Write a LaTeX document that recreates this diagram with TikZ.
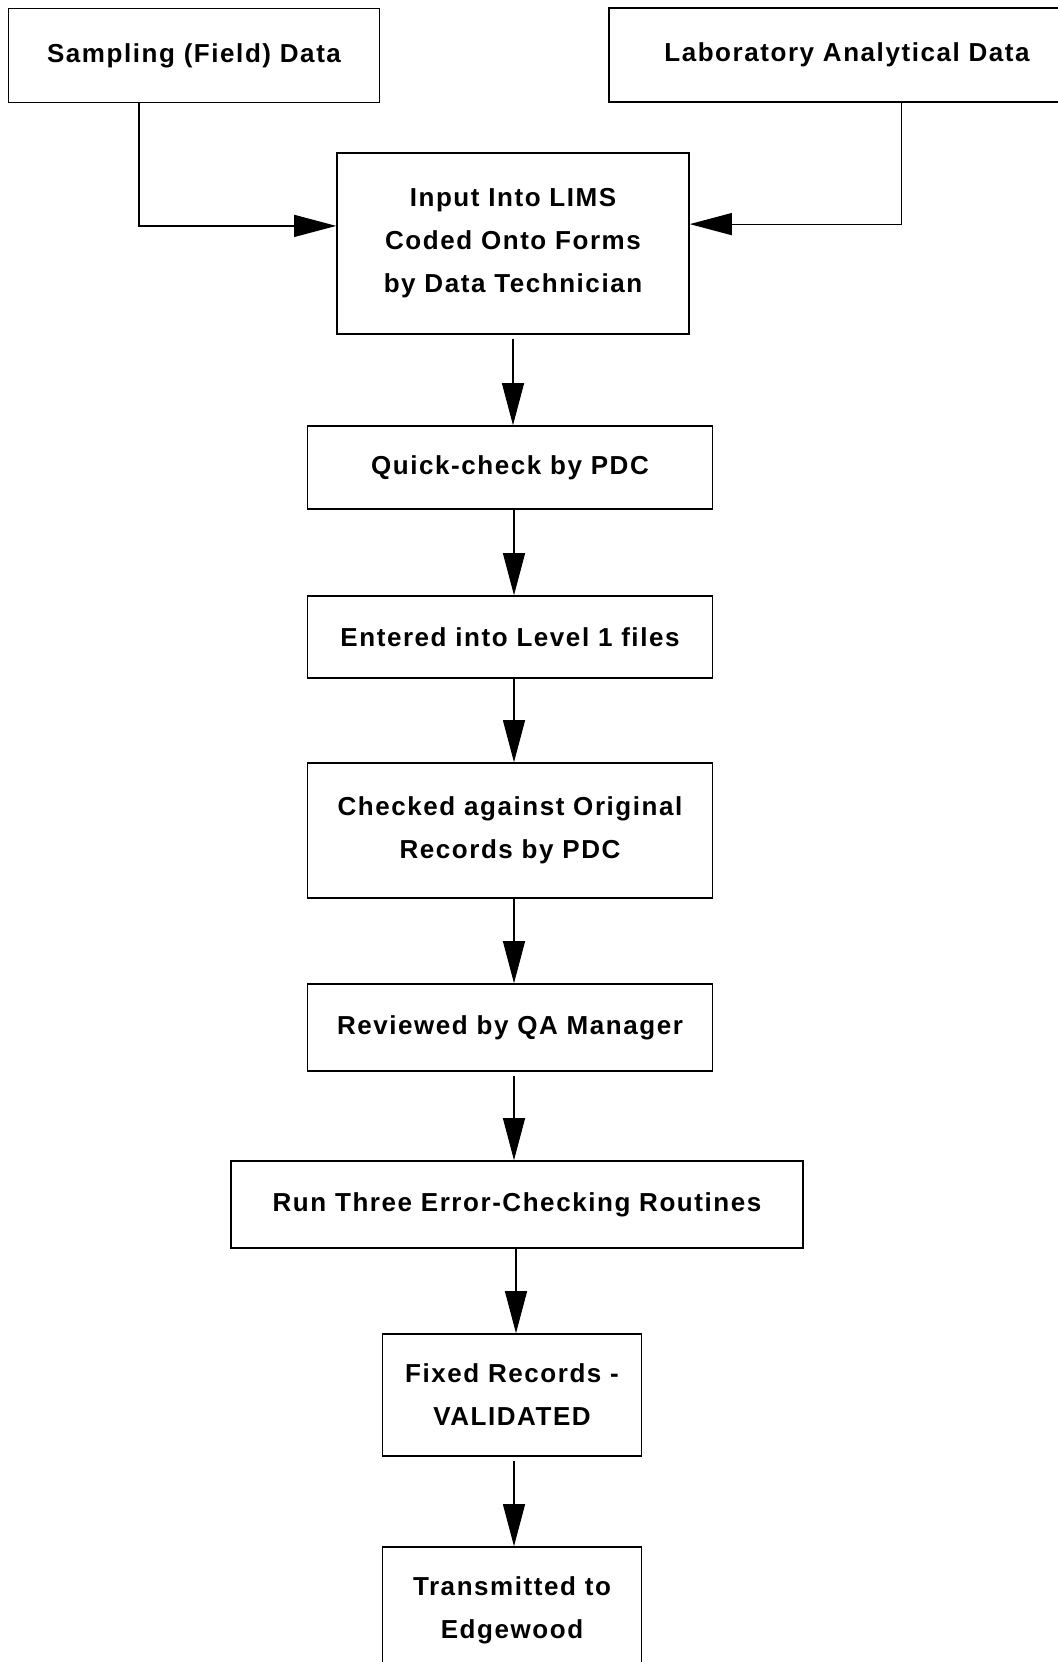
\documentclass[tikz,border=0pt]{standalone}
\usepackage{fontspec}
\setmainfont{Liberation Sans}[LetterSpace=6]
\usetikzlibrary{arrows.meta}
\begin{document}
\begin{tikzpicture}[x=0.5pt,y=-0.5pt,
    stepbox/.style={draw,line width=0.8pt,align=center,inner sep=0pt,
      font=\fontsize{13}{21.5}\selectfont\bfseries},
    arr/.style={line width=0.6pt,-{Triangle[length=21pt,width=11pt]}}]
    \useasboundingbox (0,0) rectangle (1058,1662);
    \clip (0,0) rectangle (1058,1662);
    \node[stepbox,minimum width=185.5pt,minimum height=47pt] (samp) at (194,55.5) {Sampling (Field) Data};
    \node[stepbox,minimum width=238pt,minimum height=47pt] (lab) at (847,55) {Laboratory Analytical Data};
    \node[stepbox,minimum width=176pt,minimum height=90.5pt] (lims) at (513,243.5) {Input Into LIMS\\Coded Onto Forms\\by Data Technician};
    \node[stepbox,minimum width=202.5pt,minimum height=41.5pt] (quick) at (510,467.5) {Quick-check by PDC};
    \node[stepbox,minimum width=202.5pt,minimum height=41pt] (entered) at (510,637) {Entered into Level 1 files};
    \node[stepbox,minimum width=202.5pt,minimum height=67.5pt] (checked) at (510,830.5) {Checked against Original\\Records by PDC};
    \node[stepbox,minimum width=202.5pt,minimum height=43.5pt] (reviewed) at (510,1027.5) {Reviewed by QA Manager};
    \node[stepbox,minimum width=286pt,minimum height=43.5pt] (run) at (517,1204.5) {Run Three Error-Checking Routines};
    \node[stepbox,minimum width=129.5pt,minimum height=61pt] (fixed) at (512,1395) {Fixed Records -\\VALIDATED};
    \node[stepbox,minimum width=129.5pt,minimum height=63pt] (trans) at (512,1610) {Transmitted to\\Edgewood};
    \draw[arr] ([xshift=-27.5pt]samp.south) |- ([yshift=8.8pt]lims.west);
    \draw[arr] ([xshift=27.3pt]lab.south) |- ([yshift=9.7pt]lims.east);
    \draw[arr] ([yshift=-2pt]lims.south) -- (lims.south |- quick.north);
    \draw[arr] ([xshift=2pt]quick.south) -- ([xshift=2pt]entered.north);
    \draw[arr] ([xshift=2pt]entered.south) -- ([xshift=2pt]checked.north);
    \draw[arr] ([xshift=2pt]checked.south) -- ([xshift=2pt]reviewed.north);
    \draw[arr] ([xshift=2pt,yshift=-2pt]reviewed.south) -- ([xshift=2pt]reviewed.south |- run.north);
    \draw[arr] ([xshift=2pt]fixed.north |- run.south) -- ([xshift=2pt]fixed.north);
    \draw[arr] ([xshift=1pt,yshift=-2pt]fixed.south) -- ([xshift=1pt]trans.north);
\end{tikzpicture}
\end{document}
